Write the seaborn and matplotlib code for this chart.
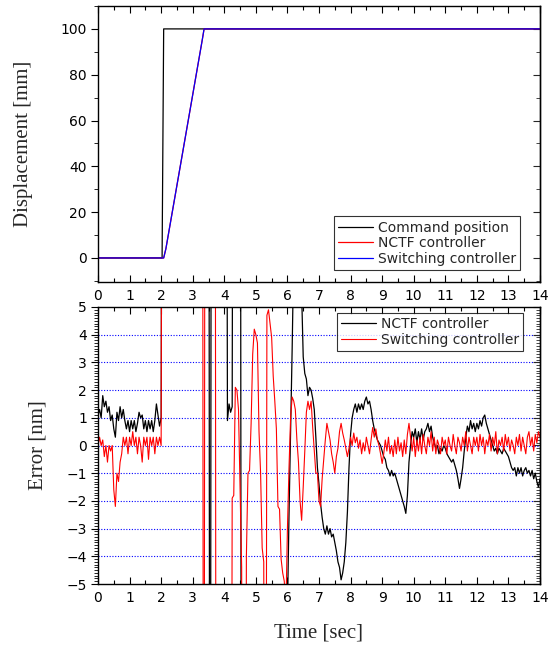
import numpy as np
import pandas as pd
import matplotlib
matplotlib.use("Agg")
import matplotlib.pyplot as plt
from matplotlib.ticker import MultipleLocator
import seaborn as sns

# ---------------- data ----------------
# top panel: displacement [mm]
t_cmd = [0.0, 2.03, 2.08, 14.0]
pos_cmd = [0.0, 0.0, 100.0, 100.0]
t_ramp = [0.0, 2.08, 2.15, 3.30, 3.36, 14.0]
pos_nctf = [0.0, 0.0, 4.0, 95.0, 100.0, 100.0]
pos_switch = [0.0, 0.0, 4.0, 95.0, 100.0, 100.0]

# bottom panel: error [nm], sampled every 0.05 s (values beyond +-5 are off-scale)
err_nctf = [
    1.1, 1.3, 1.0, 1.8, 1.4, 1.6, 1.2, 1.4, 0.9, 1.1, 0.6, 0.3, 1.2, 0.9, 1.4, 1.0, 1.3, 0.9, 0.6, 0.9,
    0.5, 0.9, 0.6, 0.9, 0.5, 0.8, 1.2, 1.0, 1.1, 0.6, 0.9, 0.5, 0.9, 0.6, 0.9, 0.5, 0.9, 1.5, 1.1, 0.7,
    1.0, 30, 30, 30, 30, 30, 30, 30, 30, 30, 30, 30, 30, 30, 30, 30, 30, 30, 30, 30,
    30, 30, 30, 30, 30, 30, 30, 30, 30, 30, 30, -30, 30, 30, 30, 30, 30, 30, 30, 30,
    30, 30, 0.9, 1.5, 1.2, 1.4, 30, 30, 30, 30, 30, -30, -30, -30, -30, -30, -30, -30, -30, -30,
    -30, -30, -30, -30, -30, -30, -30, -30, -30, -30, -30, -30, -30, -30, -30, -30, -30, -30, -30, -30,
    -6, -2.5, 0.5, 3.5, 7, 30, 30, 30, 30, 5.5, 3.2, 2.6, 2.4, 1.8, 2.1, 2.0, 1.7, 1.3, 0.3, -0.8,
    -1.4, -2.1, -2.6, -3.0, -3.2, -2.9, -3.2, -3.0, -3.3, -3.2, -3.5, -3.8, -4.2, -4.4, -4.85, -4.6, -4.2, -3.5, -2.4, -0.8,
    0.4, 1.0, 1.3, 1.5, 1.2, 1.5, 1.3, 1.5, 1.3, 1.6, 1.75, 1.5, 1.6, 1.3, 0.9, 0.6, 0.4, 0.2, 0.1, 0.0,
    -0.2, -0.4, -0.5, -0.8, -0.9, -1.1, -0.9, -1.1, -1.0, -1.2, -1.4, -1.6, -1.8, -2.0, -2.2, -2.45, -1.8, -0.6, 0.0, 0.5,
    0.3, 0.6, 0.1, 0.5, 0.2, 0.6, 0.2, 0.5, 0.6, 0.8, 0.5, 0.7, 0.3, 0.1, -0.1, 0.0, -0.3, -0.1, -0.2, 0.0,
    -0.1, -0.3, -0.4, -0.5, -0.6, -0.5, -0.7, -0.9, -1.2, -1.55, -1.2, -0.8, -0.2, 0.3, 0.7, 0.5, 0.9, 0.6, 0.8, 0.5,
    0.8, 0.6, 0.9, 0.7, 1.0, 1.1, 0.8, 0.6, 0.4, 0.2, 0.0, -0.2, -0.1, -0.3, -0.1, -0.2, -0.3, -0.1, -0.2, -0.3,
    -0.4, -0.6, -0.8, -0.9, -0.8, -1.1, -0.8, -1.0, -0.8, -1.1, -0.9, -0.8, -1.0, -0.9, -1.1, -0.9, -1.2, -1.0, -1.3, -1.5,
    -1.2,
]
err_switch = [
    0.0, 0.3, 0.0, 0.2, -0.4, 0.0, -0.6, 0.0, -0.2, 0.0, -1.6, -2.2, -1.0, -1.3, -0.6, -0.3, 0.3, 0.0, 0.3, -0.3,
    0.3, 0.0, 0.5, 0.0, 0.3, -0.3, 0.3, 0.0, -0.6, 0.3, 0.0, 0.3, -0.5, 0.3, 0.0, 0.3, -0.3, 0.3, 0.0, 0.3,
    0.0, 30, 30, 30, 30, 30, 30, 30, 30, 30, 30, 30, 30, 30, 30, 30, 30, 30, 30, 30,
    30, 30, 30, 30, 30, 30, 30, -30, 30, 30, 30, 30, 30, 30, 30, -30, -30, -30, -30, -30,
    -30, -30, -30, -30, -30, -1.9, -1.8, 2.1, 2.0, 1.3, -1.5, -4.4, -30, -30, -4.0, -1.0, -0.9, 0.8, 3.3, 4.2,
    4.0, 3.7, 0.5, -1.0, -3.7, -4.2, -30, 4.7, 4.9, 4.4, 3.9, 2.5, 1.6, 0.6, -2.2, -2.3, -4.1, -4.6, -4.9, -6.0,
    -3.0, -0.8, 1.0, 1.75, 1.6, 1.3, 0.2, -0.6, -2.0, -2.7, -1.5, -0.2, 1.2, 1.6, 1.3, 1.6, 0.65, -0.2, -1.0, -1.0,
    -2.0, -2.2, -1.2, -0.5, 0.2, 0.8, 0.5, 0.2, -0.3, -0.6, -1.0, -0.4, -0.1, 0.5, 0.8, 0.45, 0.2, -0.1, -0.4, -0.1,
    0.3, 0.0, 0.45, 0.1, 0.3, -0.1, 0.2, -0.3, 0.1, -0.2, 0.3, 0.0, -0.3, 0.2, 0.65, 0.3, 0.6, 0.2, 0.0, -0.3,
    -0.65, -0.3, 0.2, -0.2, 0.3, -0.3, 0.0, -0.4, 0.2, -0.3, 0.3, -0.2, 0.1, -0.4, 0.2, -0.3, 0.4, 0.8, 0.3, -0.2,
    0.3, -0.4, 0.2, -0.2, 0.3, -0.3, 0.4, 0.0, -0.3, 0.3, 0.0, 0.5, -0.2, 0.3, -0.3, 0.2, 0.0, -0.3, 0.3, 0.0,
    0.2, -0.3, 0.3, 0.0, -0.2, 0.4, 0.0, -0.3, 0.3, 0.1, -0.2, 0.3, 0.0, 0.5, -0.2, 0.3, 0.0, -0.3, 0.3, 0.0,
    0.3, -0.2, 0.4, 0.0, 0.3, -0.3, 0.2, 0.0, 0.4, -0.2, 0.3, 0.0, 0.5, -0.3, 0.2, 0.0, 0.3, -0.2, 0.4, 0.0,
    0.3, -0.2, 0.2, 0.0, -0.3, 0.3, 0.0, 0.4, -0.2, 0.3, 0.0, -0.3, 0.3, 0.5, 0.0, 0.3, -0.2, 0.4, 0.1, 0.5,
    0.3,
]
t_err = np.round(np.arange(len(err_nctf)) * 0.05, 2)

x_ticks = list(range(0, 15))
disp_ticks = [0, 20, 40, 60, 80, 100]
err_ticks = [-5, -4, -3, -2, -1, 0, 1, 2, 3, 4, 5]

# ---------------- style ----------------
sns.set_style("ticks")
plt.rcParams["font.family"] = ["DejaVu Sans"]
SERIF = ["Liberation Serif", "DejaVu Serif"]

fig = plt.figure(figsize=(5.58, 6.46), dpi=100)
ax1 = fig.add_axes([98 / 558, 1 - 282 / 646, 442 / 558, 276 / 646])
ax2 = fig.add_axes([98 / 558, 1 - 584 / 646, 442 / 558, 277 / 646])

# ---------------- top panel ----------------
sns.lineplot(x=t_cmd, y=pos_cmd, ax=ax1, color="black", lw=0.9,
             estimator=None, sort=False, label="Command position")
sns.lineplot(x=t_ramp, y=pos_nctf, ax=ax1, color="#ff0000", lw=0.9,
             estimator=None, sort=False, label="NCTF controller")
sns.lineplot(x=t_ramp, y=pos_switch, ax=ax1, color="#0000ff", lw=0.9,
             estimator=None, sort=False, label="Switching controller")
ax1.set_xlim(0, 14)
ax1.set_ylim(-10.5, 110)
ax1.set_xticks(x_ticks)
ax1.set_yticks(disp_ticks)
ax1.xaxis.set_minor_locator(MultipleLocator(0.5))
ax1.yaxis.set_minor_locator(MultipleLocator(10))
ax1.set_xlabel("")
ax1.set_ylabel("Displacement [mm]", family=SERIF, fontsize=15)
ax1.yaxis.set_label_coords(-0.147, 0.5)

# ---------------- bottom panel ----------------
sns.lineplot(x=t_err, y=err_nctf, ax=ax2, color="black", lw=0.9,
             estimator=None, sort=False, label="NCTF controller")
sns.lineplot(x=t_err, y=err_switch, ax=ax2, color="#ff0000", lw=0.8,
             estimator=None, sort=False, label="Switching controller")
for v in err_ticks[1:-1]:
    ax2.axhline(v, color="#0000ff", lw=0.8, ls=(0, (1, 1.5)), zorder=0)
ax2.set_xlim(0, 14)
ax2.set_ylim(-5, 5)
ax2.set_xticks(x_ticks)
ax2.set_yticks(err_ticks)
ax2.xaxis.set_minor_locator(MultipleLocator(0.5))
ax2.yaxis.set_minor_locator(MultipleLocator(0.1))
ax2.set_xlabel("Time [sec]", family=SERIF, fontsize=15)
ax2.xaxis.set_label_coords(0.5, -0.142)
ax2.set_ylabel("Error [nm]", family=SERIF, fontsize=15)
ax2.yaxis.set_label_coords(-0.115, 0.5)

for ax, minor_step in ((ax1, 10), (ax2, 0.1)):
    for s in ax.spines.values():
        s.set_visible(True)
        s.set_color("black")
        s.set_linewidth(1.0)
    ax.tick_params(axis="both", which="both", colors="black", labelsize=10)
    ax.tick_params(axis="x", which="major", direction="in", length=5, width=0.8,
                   top=True, bottom=True, pad=5)
    ax.tick_params(axis="x", which="minor", direction="in", length=3, width=0.8,
                   top=True, bottom=True)
    ax.tick_params(axis="y", which="major", direction="out", length=5, width=0.8,
                   left=True, right=False, pad=3)
    ax.tick_params(axis="y", which="minor", direction="out", length=3, width=0.6,
                   left=True, right=False)
    # right-hand ticks point inward
    sec = ax.secondary_yaxis("right")
    sec.set_yticks(ax.get_yticks())
    sec.yaxis.set_minor_locator(MultipleLocator(minor_step))
    sec.tick_params(axis="y", which="major", direction="in", length=5, width=0.8,
                    labelright=False)
    sec.tick_params(axis="y", which="minor", direction="in", length=3, width=0.6)
    sec.spines["right"].set_linewidth(1.0)

leg1 = ax1.legend(loc="lower right", bbox_to_anchor=(0.955, 0.043), borderaxespad=0,
                  frameon=True, fancybox=False, edgecolor="black", fontsize=10,
                  handlelength=2.5, handletextpad=0.35, labelspacing=0.12,
                  borderpad=0.3)
leg1.get_frame().set_linewidth(0.8)
leg2 = ax2.legend(loc="upper right", bbox_to_anchor=(0.962, 0.978), borderaxespad=0,
                  frameon=True, fancybox=False, edgecolor="black", fontsize=10,
                  handlelength=2.5, handletextpad=0.35, labelspacing=0.12,
                  borderpad=0.3)
leg2.get_frame().set_linewidth(0.8)

fig.savefig("out.png", dpi=100, facecolor="white")
